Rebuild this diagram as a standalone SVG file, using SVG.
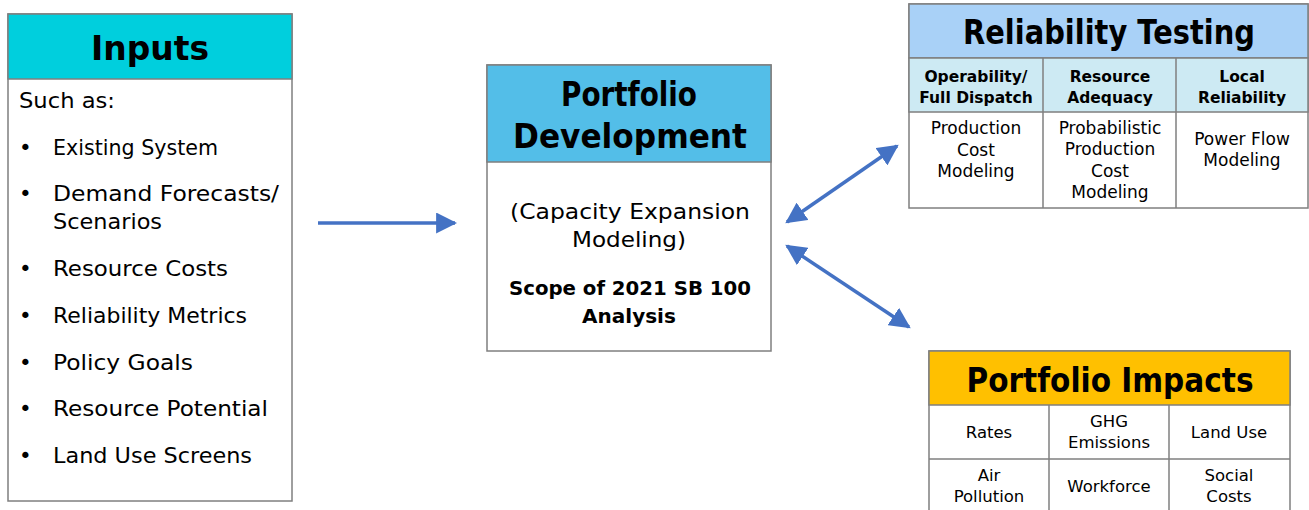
<svg xmlns="http://www.w3.org/2000/svg" width="1309" height="510" viewBox="0 0 1309 510">
<defs>
<style>
.box{fill:#fff;stroke:#7f7f7f;stroke-width:1.5}
.ln{stroke:#7f7f7f;stroke-width:1.5;fill:none}
text{font-family:"DejaVu Sans","Liberation Sans",sans-serif;fill:#000}
.h{font-weight:bold;font-size:33px;text-anchor:middle}
.sh{font-weight:bold;font-size:15.5px;text-anchor:middle}
.c{font-size:17px;text-anchor:middle}
.ci{font-size:16.5px;text-anchor:middle}
.li{font-size:21.5px}
.conn{stroke:#4472C4;stroke-width:3.5;fill:none}
</style>
<marker id="ah" viewBox="0 0 10 10" refX="9" refY="5" markerWidth="6" markerHeight="6" markerUnits="strokeWidth" orient="auto-start-reverse">
<path d="M0,0 L10,5 L0,10 z" fill="#4472C4"/>
</marker>
</defs>
<rect width="1309" height="510" fill="#fff"/>

<g id="inputs">
<rect class="box" x="8" y="14" width="284" height="487"/>
<rect x="8" y="14" width="284" height="65" fill="#00CFDD" stroke="#7f7f7f" stroke-width="1.5"/>
<text class="h" x="150" y="60" font-size="35" textLength="118" lengthAdjust="spacingAndGlyphs">Inputs</text>
<text class="li" x="19" y="108" textLength="96" lengthAdjust="spacingAndGlyphs">Such as:</text>
<text class="li" x="19" y="155">•</text><text class="li" x="53" y="155" textLength="165" lengthAdjust="spacingAndGlyphs">Existing System</text>
<text class="li" x="19" y="201">•</text><text class="li" x="53" y="201" textLength="226" lengthAdjust="spacingAndGlyphs">Demand Forecasts/</text>
<text class="li" x="53" y="229" textLength="109" lengthAdjust="spacingAndGlyphs">Scenarios</text>
<text class="li" x="19" y="276">•</text><text class="li" x="53" y="276" textLength="175" lengthAdjust="spacingAndGlyphs">Resource Costs</text>
<text class="li" x="19" y="323">•</text><text class="li" x="53" y="323" textLength="194" lengthAdjust="spacingAndGlyphs">Reliability Metrics</text>
<text class="li" x="19" y="370">•</text><text class="li" x="53" y="370" textLength="140" lengthAdjust="spacingAndGlyphs">Policy Goals</text>
<text class="li" x="19" y="416">•</text><text class="li" x="53" y="416" textLength="215" lengthAdjust="spacingAndGlyphs">Resource Potential</text>
<text class="li" x="19" y="463">•</text><text class="li" x="53" y="463" textLength="199" lengthAdjust="spacingAndGlyphs">Land Use Screens</text>
</g>

<g id="portfolio-development">
<rect class="box" x="487" y="65" width="284" height="286"/>
<rect x="487" y="65" width="284" height="97" fill="#53BEE8" stroke="#7f7f7f" stroke-width="1.5"/>
<text class="h" x="629" y="106" textLength="136" lengthAdjust="spacingAndGlyphs">Portfolio</text>
<text class="h" x="630" y="148" textLength="234" lengthAdjust="spacingAndGlyphs">Development</text>
<text class="li" x="630" y="219" text-anchor="middle" textLength="240" lengthAdjust="spacingAndGlyphs">(Capacity Expansion</text>
<text class="li" x="629" y="247" text-anchor="middle" textLength="114" lengthAdjust="spacingAndGlyphs">Modeling)</text>
<text x="630" y="295" text-anchor="middle" font-size="20" font-weight="bold" textLength="242" lengthAdjust="spacingAndGlyphs">Scope of 2021 SB 100</text>
<text x="629" y="323" text-anchor="middle" font-size="20" font-weight="bold">Analysis</text>
</g>

<g id="reliability-testing">
<rect class="box" x="909" y="4" width="399" height="204"/>
<rect x="909" y="4" width="399" height="54" fill="#A9D1F7" stroke="#7f7f7f" stroke-width="1.5"/>
<rect x="909" y="58" width="399" height="54" fill="#CDEAF3" stroke="#7f7f7f" stroke-width="1.5"/>
<line class="ln" x1="1043" y1="58" x2="1043" y2="208"/>
<line class="ln" x1="1176" y1="58" x2="1176" y2="208"/>
<text class="h" x="1109" y="44" textLength="292" lengthAdjust="spacingAndGlyphs">Reliability Testing</text>
<text class="sh" x="976" y="82">Operability/</text>
<text class="sh" x="976" y="103">Full Dispatch</text>
<text class="sh" x="1110" y="82">Resource</text>
<text class="sh" x="1110" y="103">Adequacy</text>
<text class="sh" x="1242" y="82">Local</text>
<text class="sh" x="1242" y="103">Reliability</text>
<text class="c" x="976" y="134">Production</text>
<text class="c" x="976" y="156">Cost</text>
<text class="c" x="976" y="177">Modeling</text>
<text class="c" x="1110" y="134">Probabilistic</text>
<text class="c" x="1110" y="155">Production</text>
<text class="c" x="1110" y="177">Cost</text>
<text class="c" x="1110" y="198">Modeling</text>
<text class="c" x="1242" y="145">Power Flow</text>
<text class="c" x="1242" y="166">Modeling</text>
</g>

<g id="portfolio-impacts">
<rect class="box" x="929" y="351" width="361" height="170"/>
<rect x="929" y="351" width="361" height="54" fill="#FFC000" stroke="#7f7f7f" stroke-width="1.5"/>
<line class="ln" x1="929" y1="459" x2="1290" y2="459"/>
<line class="ln" x1="1049" y1="405" x2="1049" y2="520"/>
<line class="ln" x1="1169" y1="405" x2="1169" y2="520"/>
<text class="h" x="1110" y="392" textLength="287" lengthAdjust="spacingAndGlyphs">Portfolio Impacts</text>
<text class="ci" x="989" y="438">Rates</text>
<text class="ci" x="1109" y="427">GHG</text>
<text class="ci" x="1109" y="448">Emissions</text>
<text class="ci" x="1229" y="438">Land Use</text>
<text class="ci" x="989" y="481">Air</text>
<text class="ci" x="989" y="502">Pollution</text>
<text class="ci" x="1109" y="492">Workforce</text>
<text class="ci" x="1229" y="481">Social</text>
<text class="ci" x="1229" y="502">Costs</text>
</g>

<g id="connectors">
<line class="conn" x1="318" y1="223" x2="455" y2="223" marker-end="url(#ah)"/>
<line class="conn" x1="787" y1="222" x2="897" y2="146" marker-start="url(#ah)" marker-end="url(#ah)"/>
<line class="conn" x1="787" y1="246" x2="909" y2="327" marker-start="url(#ah)" marker-end="url(#ah)"/>
</g>
</svg>
